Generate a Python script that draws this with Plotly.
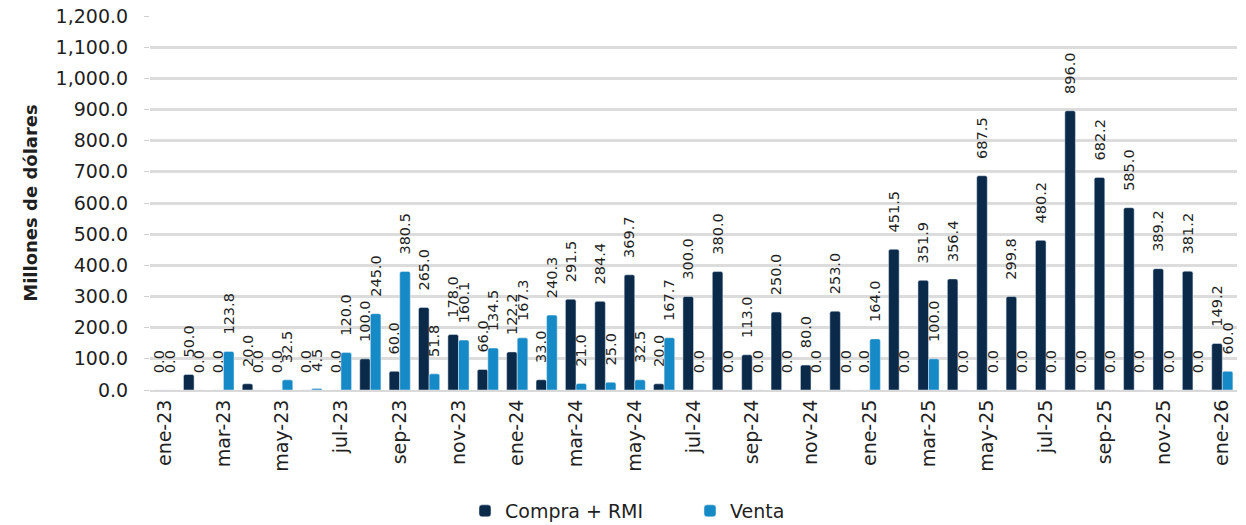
import plotly.graph_objects as go

months = ["ene-23", "feb-23", "mar-23", "abr-23", "may-23", "jun-23", "jul-23", "ago-23",
          "sep-23", "oct-23", "nov-23", "dic-23",
          "ene-24", "feb-24", "mar-24", "abr-24", "may-24", "jun-24", "jul-24", "ago-24",
          "sep-24", "oct-24", "nov-24", "dic-24",
          "ene-25", "feb-25", "mar-25", "abr-25", "may-25", "jun-25", "jul-25", "ago-25",
          "sep-25", "oct-25", "nov-25", "dic-25",
          "ene-26"]

compra_rmi = [0.0, 50.0, 0.0, 20.0, 0.0, 0.0, 0.0, 100.0, 60.0, 265.0, 178.0, 66.0,
              122.2, 33.0, 291.5, 284.4, 369.7, 20.0, 300.0, 380.0, 113.0, 250.0, 80.0, 253.0,
              0.0, 451.5, 351.9, 356.4, 687.5, 299.8, 480.2, 896.0, 682.2, 585.0, 389.2, 381.2,
              149.2]

venta = [0.0, 0.0, 123.8, 0.0, 32.5, 4.5, 120.0, 245.0, 380.5, 51.8, 160.1, 134.5,
         167.3, 240.3, 21.0, 25.0, 32.5, 167.7, 0.0, 0.0, 0.0, 0.0, 0.0, 0.0,
         164.0, 0.0, 100.0, 0.0, 0.0, 0.0, 0.0, 0.0, 0.0, 0.0, 0.0, 0.0,
         60.0]

tick_labels = months[::2]
y_ticks = list(range(0, 1201, 100))

FONT = "DejaVu Sans, sans-serif"
DARK = "#0B2A4A"
BLUE = "#168AC6"
TEXT = "#1f1f1f"
NBSP = "\u00a0"

fig = go.Figure()
for name, vals, color in [("Compra + RMI", compra_rmi, DARK), ("Venta", venta, BLUE)]:
    fig.add_trace(go.Bar(
        x=months, y=vals, name=name, marker_color=color,
        # leading spaces lift the rotated labels off the bar tops
        text=[NBSP * 3 + f"{v:.1f}" for v in vals], textposition="outside",
        textangle=-90, constraintext="none", cliponaxis=False,
        textfont=dict(family=FONT, size=14.5, color=TEXT),
    ))

fig.update_layout(
    width=1246, height=525,
    margin=dict(l=150, r=9, t=16, b=135, autoexpand=False),
    paper_bgcolor="white", plot_bgcolor="white",
    barmode="group", bargap=0.28, bargroupgap=0,
    barcornerradius=2,
    font=dict(family=FONT, size=19, color=TEXT),
    legend=dict(orientation="h", xref="container", yref="container",
                x=465 / 1246, xanchor="left", y=14 / 525, yanchor="middle",
                font=dict(size=19), itemwidth=30, traceorder="normal",
                entrywidthmode="pixels", entrywidth=180),
    showlegend=True,
)
fig.update_xaxes(
    type="category", tickvals=tick_labels, ticktext=tick_labels, tickangle=-90,
    showgrid=False, showline=True, linecolor="#d9d9d9", linewidth=2,
    ticks="", tickfont=dict(size=19), automargin=False,
)
fig.update_yaxes(
    range=[0, 1200], tickvals=y_ticks,
    ticktext=[f"{v:,.1f}" + NBSP * 2 for v in y_ticks],
    showgrid=True, gridcolor="#dcdcdc", gridwidth=2.5, zeroline=False,
    ticks="outside", ticklen=5, tickcolor="#cfcfcf",
    title=dict(text="<b>Millones de dólares</b>", font=dict(size=18), standoff=13),
    tickfont=dict(size=19), automargin=False,
)

fig.write_html("out.html")
